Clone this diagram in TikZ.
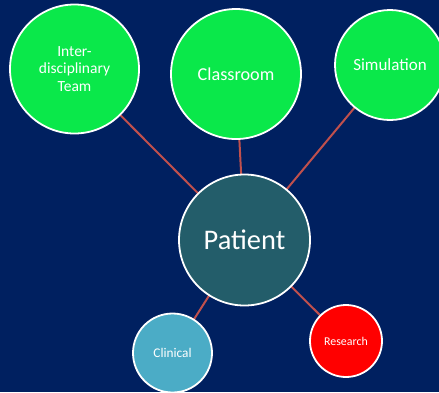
\documentclass[tikz,border=0pt]{standalone}
\usepackage{fontspec}
\setmainfont{Carlito}
\definecolor{bgblue}{HTML}{002060}
\definecolor{bubgreen}{HTML}{0AE84A}
\definecolor{patfill}{HTML}{235D6A}
\definecolor{clinfill}{HTML}{4BACC6}
\definecolor{linkred}{HTML}{C0504D}
\begin{document}
\begin{tikzpicture}[x=1pt,y=-1pt,
  bubble/.style={circle,draw=white,line width=1.8pt,text=white,inner sep=0pt,align=center},
  link/.style={draw=linkred,line width=2pt}]
\fill[bgblue] (0,0) rectangle (439,392);
\useasboundingbox (0,0) rectangle (439,392);
\coordinate (cI) at (74.5,69);
\coordinate (cC) at (236,74);
\coordinate (cS) at (390,65);
\coordinate (cP) at (244.5,240);
\coordinate (cL) at (172.5,353);
\coordinate (cR) at (346,341);
\draw[link] (cI) -- (cP);
\draw[link] (cC) -- (cP);
\draw[link] (cS) -- (cP);
\draw[link] (cL) -- (cP);
\draw[link] (cR) -- (cP);
\node[bubble,fill=bubgreen,minimum size=129pt,font=\fontsize{15.5}{17.5}\selectfont] (inter) at (cI) {Inter-\\disciplinary\\Team};
\node[bubble,fill=bubgreen,minimum size=130pt,font=\fontsize{18.2}{21}\selectfont] (class) at (cC) {Classroom};
\node[bubble,fill=bubgreen,minimum size=110pt,font=\fontsize{17}{20}\selectfont] (sim) at (cS) {Simulation};
\node[bubble,fill=patfill,minimum size=131pt,font=\fontsize{28.4}{32}\selectfont] (pat) at (cP) {Patient};
\node[bubble,fill=clinfill,minimum size=79pt,font=\fontsize{13.3}{15}\selectfont] (clin) at (cL) {Clinical};
\node[bubble,fill=red,minimum size=72pt,font=\fontsize{11.9}{14}\selectfont] (res) at (cR) {Research};
\end{tikzpicture}
\end{document}
